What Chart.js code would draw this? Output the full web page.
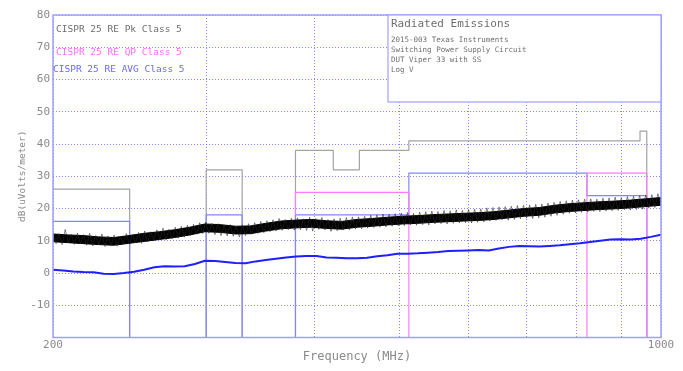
<!DOCTYPE html>
<html>
<head>
<meta charset="utf-8">
<script src="https://cdn.jsdelivr.net/npm/chart.js@4.4.0/dist/chart.umd.min.js"></script>
<style>
  body { margin: 0; background: #fff; }
  #wrap { width: 683px; height: 371px; }
</style>
</head>
<body>
<div id="wrap"><canvas id="grafico" width="683" height="371"></canvas></div>
<script>
// eje x (MHz) y eje y (dB)
var xMin = 200, xMax = 1000;
var yMin = -20, yMax = 80;
var xTicks = [200, 300, 400, 500, 600, 700, 800, 900, 1000];
var xLabels = { 200: '200', 1000: '1000' };

// limites CISPR 25 clase 5 (null = corte)
var pkLimitFreq  = [200, 245, 245, 270, 300, 300, 330, 330, 355, 380, 380, 420, 420, 450, 450, 513, 513, 946, 946, 963, 963];
var pkLimitLevel = [26, 26, -20, null, -20, 32, 32, -20, null, -20, 38, 38, 32, 32, 38, 38, 41, 41, 44, 44, -20];

var qpLimitFreq  = [380, 380, 513, 513, 700, 822, 822, 963, 963];
var qpLimitLevel = [18, 25, 25, -20, null, -20, 31, 31, -20];

var avgLimitFreq  = [200, 245, 245, 270, 300, 300, 330, 330, 355, 380, 380, 513, 513, 822, 822, 963, 963];
var avgLimitLevel = [16, 16, -20, null, -20, 18, 18, -20, null, -20, 18, 18, 31, 31, 24, 24, -20];

// barrido pico: banda densa (41 puntos, 200-1000 MHz)
var peakCoreTop = [
  12.1, 11.8, 11.6, 11.2, 11.0, 11.6, 12.3, 12.8, 13.4, 14.2,
  15.2, 15.0, 14.5, 14.6, 15.4, 16.1, 16.4, 16.6, 16.2, 16.0,
  16.6, 16.9, 17.3, 17.6, 17.8, 18.1, 18.3, 18.5, 18.7, 19.0,
  19.5, 20.0, 20.3, 21.0, 21.5, 21.8, 22.1, 22.3, 22.6, 23.0,
  23.4
];
var peakCoreBottom = [
  9.7, 9.4, 9.1, 8.8, 8.6, 9.2, 9.8, 10.4, 11.0, 11.8,
  12.8, 12.6, 12.1, 12.2, 13.0, 13.7, 14.0, 14.2, 13.8, 13.6,
  14.2, 14.5, 14.9, 15.2, 15.4, 15.7, 15.9, 16.1, 16.3, 16.6,
  17.1, 17.6, 17.9, 18.6, 19.1, 19.4, 19.7, 19.9, 20.2, 20.6,
  21.0
];
// barrido pico: ruido (200 puntos, 200-1000 MHz)
var peakReadings = [
  12.6, 9.1, 12.2, 8.8, 13.5, 9.4, 12.0, 8.9, 12.4, 9.0,
  11.9, 8.6, 12.3, 8.4, 11.6, 8.9, 12.1, 8.2, 11.5, 8.5,
  11.8, 8.3, 11.4, 8.9, 12.2, 9.0, 12.0, 9.3, 12.6, 9.2,
  13.0, 9.6, 12.8, 10.0, 13.4, 10.2, 13.9, 10.3, 13.6, 10.6,
  14.2, 10.8, 14.5, 11.1, 14.8, 11.6, 15.1, 12.0, 15.6, 12.2,
  15.8, 12.3, 15.4, 11.9, 15.3, 11.6, 14.9, 11.5, 15.0, 11.4,
  14.6, 11.2, 14.9, 11.6, 15.3, 12.0, 15.6, 12.3, 16.0, 12.5,
  16.2, 12.8, 16.5, 13.0, 16.9, 13.2, 16.6, 13.4, 17.0, 13.3,
  17.1, 13.4, 16.8, 13.2, 17.3, 13.0, 16.9, 13.5, 17.2, 13.3,
  16.6, 12.9, 16.8, 13.1, 17.0, 13.3, 17.2, 13.4, 17.4, 13.6,
  17.4, 13.7, 17.6, 13.9, 17.9, 14.1, 18.0, 14.2, 18.3, 14.3,
  18.2, 14.5, 18.4, 14.6, 18.6, 14.7, 18.8, 14.9, 18.5, 14.8,
  18.9, 15.0, 19.0, 14.9, 19.2, 15.2, 19.1, 15.3, 19.4, 15.2,
  19.3, 15.4, 19.6, 15.5, 19.4, 15.6, 19.7, 15.5, 19.8, 15.7,
  19.9, 15.8, 20.2, 16.1, 20.3, 16.3, 20.5, 16.5, 20.6, 16.4,
  20.7, 16.6, 20.9, 16.8, 21.0, 17.0, 21.1, 16.9, 21.3, 17.1,
  21.4, 17.3, 21.7, 17.6, 21.9, 17.9, 22.2, 18.2, 22.4, 18.5,
  22.6, 18.6, 22.7, 18.8, 22.9, 18.9, 23.0, 19.1, 22.9, 19.0,
  23.2, 19.2, 23.3, 19.3, 23.5, 19.4, 23.4, 19.6, 23.7, 19.5,
  23.8, 19.7, 24.0, 19.8, 24.2, 20.1, 24.3, 20.3, 24.6, 20.6
];

// barrido promedio (61 puntos, 200-1000 MHz)
var avgReadings = [
  1.0, 0.8, 0.5, 0.3, 0.2, -0.2, -0.3, 0.0, 0.4, 1.0,
  1.8, 2.1, 2.0, 2.1, 2.8, 3.8, 3.7, 3.4, 3.1, 3.0,
  3.6, 4.0, 4.4, 4.8, 5.1, 5.3, 5.3, 4.8, 4.7, 4.6,
  4.6, 4.7, 5.2, 5.5, 6.0, 6.0, 6.1, 6.3, 6.5, 6.8,
  6.9, 7.0, 7.1, 7.0, 7.6, 8.1, 8.4, 8.3, 8.2, 8.4,
  8.6, 8.9, 9.2, 9.6, 10.0, 10.4, 10.5, 10.4, 10.6, 11.2,
  11.9
];

var legendTexts = ['CISPR 25 RE Pk Class 5', 'CISPR 25 RE QP Class 5', 'CISPR 25 RE AVG Class 5'];
var boxTitle = 'Radiated Emissions';
var boxLines = ['2015-003 Texas Instruments', 'Switching Power Supply Circuit', 'DUT Viper 33 with SS', 'Log V'];

function puntos(freqs, niveles) {
    var out = [];
    for (var i = 0; i < freqs.length; i++) out.push({x: freqs[i], y: niveles[i]});
    return out;
}
// frecuencias del barrido (espaciado log)
function barrido(lecturas) {
    var out = [];
    var n = lecturas.length;
    for (var i = 0; i < n; i++) {
        out.push({x: xMin * Math.pow(xMax / xMin, i / (n - 1)), y: lecturas[i]});
    }
    return out;
}

var azulGrid = 'rgba(95,95,255,0.75)';
var marco = '#9f9fff';
var mono = '"DejaVu Sans Mono", monospace';

var extras = {
    id: 'extras',
    afterDraw: function (chart) {
        var ctx = chart.ctx;
        var a = chart.chartArea;
        ctx.save();
        // marco
        ctx.strokeStyle = marco;
        ctx.lineWidth = 1.5;
        ctx.strokeRect(a.left, a.top, a.right - a.left, a.bottom - a.top);
        // leyenda
        ctx.font = '9.5px ' + mono;
        ctx.textBaseline = 'middle';
        ctx.fillStyle = '#6e6e6e';
        ctx.fillText(legendTexts[0], 56, 30);
        ctx.fillStyle = '#ff6cff';
        ctx.fillText(legendTexts[1], 56, 53);
        ctx.fillStyle = '#6a6aff';
        ctx.fillText(legendTexts[2], 53, 70);
        // cuadro
        var bx = 388, by = a.top, bw = a.right - 388, bh = 102 - a.top;
        ctx.fillStyle = '#fff';
        ctx.fillRect(bx, by, bw, bh);
        ctx.strokeStyle = marco;
        ctx.lineWidth = 1.2;
        ctx.strokeRect(bx, by, bw, bh);
        ctx.fillStyle = '#6e6e6e';
        ctx.font = '11px ' + mono;
        ctx.fillText(boxTitle, 391, 24);
        ctx.font = '7.5px ' + mono;
        for (var i = 0; i < boxLines.length; i++) {
            ctx.fillText(boxLines[i], 391, 40 + i * 10);
        }
        ctx.restore();
    }
};

var grafico = new Chart(document.getElementById('grafico'), {
    type: 'line',
    data: {
        datasets: [
            {label: 'Peak', data: barrido(peakReadings), borderColor: 'rgba(40,40,40,0.7)', borderWidth: 0.8, order: 1},
            {label: 'Peak top', data: barrido(peakCoreTop), borderColor: '#000', borderWidth: 1, fill: '+1', backgroundColor: '#000', order: 2},
            {label: 'Peak bottom', data: barrido(peakCoreBottom), borderColor: '#000', borderWidth: 1, order: 3},
            {label: 'AVG', data: barrido(avgReadings), borderColor: '#1f1fff', borderWidth: 2, order: 4},
            {label: 'QP limit', data: puntos(qpLimitFreq, qpLimitLevel), borderColor: '#ff7cff', borderWidth: 1.2, order: 5},
            {label: 'AVG limit', data: puntos(avgLimitFreq, avgLimitLevel), borderColor: '#8484ff', borderWidth: 1.2, order: 6},
            {label: 'Pk limit', data: puntos(pkLimitFreq, pkLimitLevel), borderColor: '#a3a3a3', borderWidth: 1.2, order: 7}
        ]
    },
    options: {
        responsive: false,
        animation: false,
        spanGaps: false,
        layout: {padding: {top: 15, right: 22, bottom: 6, left: 0}},
        elements: {
            point: {radius: 0},
            line: {tension: 0, borderJoinStyle: 'bevel', fill: false}
        },
        plugins: {legend: {display: false}, tooltip: {enabled: false}, filler: {propagate: false}},
        scales: {
            x: {
                type: 'logarithmic',
                min: xMin,
                max: xMax,
                afterBuildTicks: function (scale) {
                    scale.ticks = xTicks.map(function (v) { return {value: v}; });
                },
                afterFit: function (scale) { scale.height = 27.5; },
                ticks: {
                    autoSkip: false,
                    maxRotation: 0,
                    padding: 1,
                    color: '#8a8a8a',
                    font: {family: mono, size: 11},
                    callback: function (v) { return xLabels[v] || ''; }
                },
                grid: {color: azulGrid, lineWidth: 1, drawTicks: false},
                border: {display: false, dash: [1, 2]},
                title: {
                    display: true,
                    text: 'Frequency (MHz)',
                    color: '#8a8a8a',
                    font: {family: mono, size: 12},
                    padding: {top: 0, bottom: 1}
                }
            },
            y: {
                min: yMin,
                max: yMax,
                afterFit: function (scale) { scale.width = 53; },
                ticks: {
                    stepSize: 10,
                    padding: 3,
                    color: '#8a8a8a',
                    font: {family: mono, size: 11},
                    callback: function (v) { return v === yMin ? '' : v; }
                },
                grid: {color: azulGrid, lineWidth: 1, drawTicks: false},
                border: {display: false, dash: [1, 2]},
                title: {
                    display: true,
                    text: 'dB(uVolts/meter)',
                    color: '#8a8a8a',
                    font: {family: mono, size: 9.5},
                    padding: {top: 17, bottom: 0}
                }
            }
        }
    },
    plugins: [extras]
});
</script>
</body>
</html>
